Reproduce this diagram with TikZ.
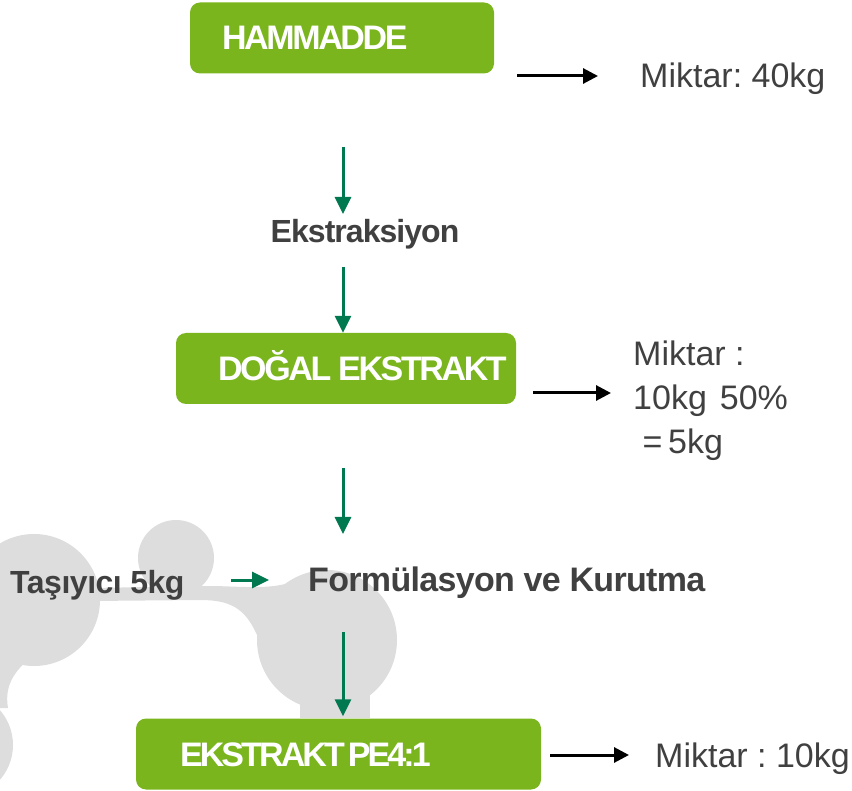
\documentclass[tikz,border=0pt]{standalone}
\usepackage{fontspec}
\setmainfont{Liberation Sans}
\usetikzlibrary{arrows.meta}
\definecolor{boxgreen}{RGB}{122,181,29}
\definecolor{arrowgreen}{RGB}{0,120,80}
\definecolor{textgray}{RGB}{64,64,64}
\definecolor{blobgray}{RGB}{221,221,221}
\frenchspacing
\begin{document}
\begin{tikzpicture}[line cap=round,line join=round,x=1pt,y=-1pt,
    greenbox/.style={fill=boxgreen,rounded corners=10pt,inner xsep=0pt,inner ysep=0pt,minimum height=71pt,text height=24pt,text depth=0pt,align=left,text=white},
    boxfont/.style={font=\fontsize{34}{40}\selectfont\bfseries\addfontfeatures{LetterSpace=#1}},
    steptext/.style={text=textgray,inner sep=0pt},
    amounttext/.style={text=textgray,inner sep=0pt,align=left,font=\fontsize{34}{44}\selectfont},
    greenarrow/.style={draw=arrowgreen,line width=3pt,line cap=butt,-{Triangle[length=17pt,width=16pt]}},
    blackarrow/.style={draw=black,line width=3pt,line cap=butt,-{Triangle[length=15pt,width=15pt]}}]
    \useasboundingbox (0,0) rectangle (852,791);
    % grey molecule in the background
    \begin{scope}
        \clip (0,0) rectangle (852,791);
        \fill [blobgray] (34,600) circle (66pt);
        \fill [blobgray] (-40,745) circle (53pt);
        \fill [blobgray] (176,558) circle (38pt);
        \fill [blobgray] (327,640) circle (70pt);
        \fill [blobgray] (300,680) rectangle (370,718);
        \fill [blobgray] (0,650) -- (30,658) .. controls (10,675) and (5,690) .. (8,708) -- (0,708) -- cycle;
        \fill [blobgray] (90,588) -- (215,586) .. controls (250,587) and (280,590) .. (300,578) -- (300,630) -- (257,635) .. controls (245,608) and (230,600) .. (200,600) -- (90,601) -- cycle;
    \end{scope}
    % boxes
    \node [greenbox,boxfont=-7,text width=304pt] (hammadde) at (342,38) {\hspace*{32pt}HAMMADDE};
    \node [greenbox,boxfont=-7,text width=340pt] (dogal) at (346,368.5) {\hspace*{42pt}DOĞAL\kern7pt EKSTRAKT};
    \node [greenbox,boxfont=-8.5,text width=405pt] (pe) at (338.5,754) {\hspace*{44pt}EKSTRAKT\kern3pt PE4:1};
    % steps
    \node [steptext,anchor=base,font=\fontsize{32}{40}\selectfont\bfseries\addfontfeatures{LetterSpace=-3}] (ekstraksiyon) at (365,243) {Ekstraksiyon};
    \node [steptext,anchor=base west,font=\fontsize{32}{40}\selectfont\bfseries\addfontfeatures{LetterSpace=-1.5}] (tasiyici) at (10,593) {Taşıyıcı 5kg};
    \node [steptext,anchor=base west,font=\fontsize{34}{40}\selectfont\bfseries\addfontfeatures{LetterSpace=-2}] (formulasyon) at (308,591) {Formülasyon ve Kurutma};
    % amounts
    \node [amounttext,anchor=base west] (miktar1) at (640,88) {Miktar: 40kg};
    \node [amounttext,anchor=north west] (miktar2) at (633,341) {Miktar :\\10kg\hspace{13pt}50\%\\~=\,5kg};
    \node [amounttext,anchor=base west] (miktar3) at (655,767) {Miktar : 10kg};
    % arrow ends
    \coordinate (g1s) at (343,147);
    \coordinate (g1e) at (343,214);
    \coordinate (g2s) at (343,267);
    \coordinate (g3s) at (343,468);
    \coordinate (g3e) at (343,534);
    \coordinate (g4s) at (343,632);
    \coordinate (t1s) at (231,580);
    \coordinate (t1e) at (269,580);
    \coordinate (b1s) at (517,76);
    \coordinate (b1e) at (598,76);
    \coordinate (b2s) at (533,393);
    \coordinate (b2e) at (611,393);
    \coordinate (b3s) at (550,755);
    \coordinate (b3e) at (629,755);
    % arrows
    \draw [greenarrow] (g1s) -- (g1e);
    \draw [greenarrow] (g2s) -- (g2s |- dogal.north);
    \draw [greenarrow] (g3s) -- (g3e);
    \draw [greenarrow] (g4s) -- ([yshift=2pt]g4s |- pe.north);
    \draw [greenarrow] (t1s) -- (t1e);
    \draw [blackarrow] (b1s) -- (b1e);
    \draw [blackarrow] (b2s) -- (b2e);
    \draw [blackarrow] (b3s) -- (b3e);
\end{tikzpicture}
\end{document}
